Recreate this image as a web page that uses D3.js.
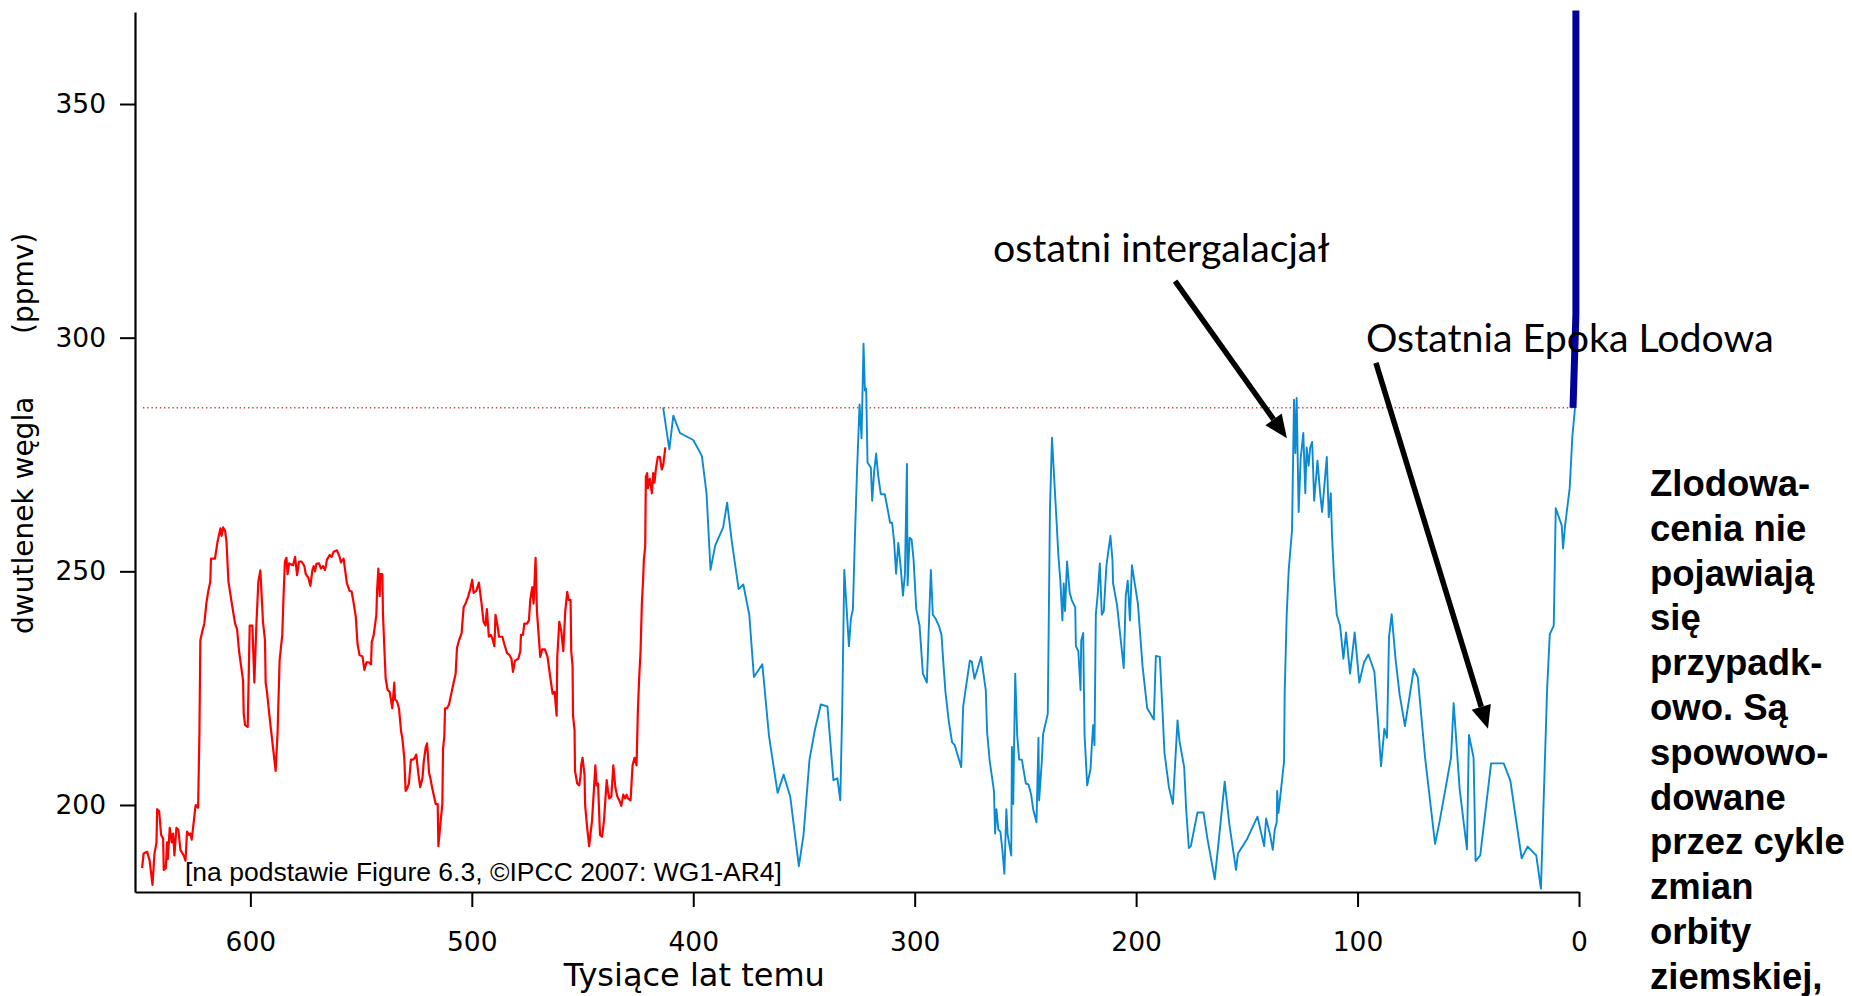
<!DOCTYPE html>
<html>
<head>
<meta charset="utf-8">
<script src="https://cdn.jsdelivr.net/npm/d3@7/dist/d3.min.js"></script>
<style>
  html, body { margin: 0; padding: 0; background: #ffffff; }
  svg { display: block; }
</style>
</head>
<body>
<svg id="chart" width="1852" height="996"></svg>
<script>
// EPICA Dome C CO2 (thousand years before present, ppmv)
const epicaAge = [648.9,648.2,646.6,645.5,644.2,643.3,642.4,642.1,641.2,640.3,639.4,639.1,638.2,637.6,637.3,636.4,635.5,634.9,634.3,633.4,632.5,631.6,630.1,629.3,628.6,627.7,627.1,626.5,625.6,624.7,623.6,623.0,622.6,621.7,620.8,619.9,619.0,618.1,617.8,616.0,614.8,613.5,613.0,612.3,611.4,610.8,609.9,608.1,606.9,606.0,605.1,603.3,603.0,602.4,601.2,600.3,599.1,598.2,597.3,596.4,595.5,594.3,593.4,593.1,592.5,591.3,589.8,588.6,587.7,586.8,585.6,585.0,584.4,583.7,583.2,582.5,580.7,579.8,578.9,578.0,576.9,575.6,575.0,573.8,572.9,572.0,571.4,570.8,570.2,569.0,568.1,567.2,566.3,565.4,564.2,563.3,562.4,560.9,559.7,559.1,557.9,556.4,555.2,554.3,553.6,552.4,551.6,550.7,549.4,548.5,547.6,546.4,545.5,545.2,544.3,543.1,542.8,542.2,541.6,541.3,540.4,540.1,539.5,538.9,538.0,537.1,535.9,535.6,535.0,534.7,533.8,532.9,531.9,531.4,530.5,529.9,529.3,528.4,527.5,526.6,525.7,525.1,524.2,523.3,522.3,521.7,520.8,520.2,519.3,518.7,517.8,516.3,515.4,515.1,514.2,513.3,513.0,512.4,512.1,511.2,510.3,509.1,508.2,507.3,506.7,505.8,504.6,503.7,502.8,501.6,500.7,499.8,499.2,498.0,496.8,495.6,494.7,493.8,493.2,492.3,491.4,490.7,489.8,489.3,488.4,487.7,486.2,485.3,484.1,483.0,482.1,481.4,480.5,479.0,478.1,477.8,476.9,476.3,475.1,474.2,473.6,472.7,472.1,471.2,470.6,469.1,468.2,467.0,465.8,464.6,463.5,462.6,461.7,461.4,460.5,459.6,458.7,457.8,456.9,456.3,455.4,455.1,454.5,454.3,453.6,453.4,452.4,451.5,450.9,450.6,450.0,449.1,448.8,447.9,447.0,445.7,444.8,444.2,443.7,443.0,442.1,441.2,440.3,439.7,439.1,438.5,437.9,437.0,436.1,435.2,434.3,433.4,432.5,431.6,430.7,430.1,429.5,428.3,427.4,426.5,425.6,425.0,424.4,423.8,423.2,422.6,422.3,421.7,421.4,420.8,420.5,419.6,418.7,418.1,417.5,416.9,416.0,415.1,414.2,413.6,412.6];
const epicaCO2 = [186.5,189.6,190.0,188.1,182.9,189.6,192.0,199.1,198.7,193.6,192.8,186.1,186.5,192.0,188.4,195.1,192.0,193.9,189.2,195.1,194.7,190.4,189.2,188.1,194.3,193.6,193.9,192.6,196.3,200.0,199.4,215.6,235.2,237.2,238.8,243.1,245.8,247.8,252.7,252.7,256.4,259.2,257.6,259.4,258.6,256.4,247.8,242.3,238.8,237.6,232.9,226.6,219.5,217.1,216.7,238.4,238.4,226.2,238.4,247.8,250.2,239.2,235.2,226.2,224.2,218.7,212.4,207.3,215.6,230.9,236.4,245.0,252.1,252.9,249.4,251.7,251.3,253.1,249.2,252.1,252.1,251.1,249.4,248.6,246.9,250.2,251.1,250.0,251.6,251.7,250.6,251.1,250.3,252.5,253.5,253.1,254.2,254.5,253.1,251.9,252.7,247.4,245.8,245.7,243.9,240.3,234.4,232.1,231.8,228.9,230.5,230.5,230.1,234.8,236.4,240.7,245.8,250.6,244.7,249.4,249.4,240.7,233.6,227.0,224.6,224.2,220.7,222.6,226.2,222.6,222.2,220.7,215.6,214.4,210.1,203.0,203.4,204.6,209.7,209.7,210.1,210.8,206.9,203.8,205.7,209.3,212.4,213.2,206.9,205.7,203.4,200.2,200.2,191.2,195.9,200.2,212.0,214.8,220.7,220.7,221.5,224.2,226.2,228.1,233.6,235.2,236.8,242.3,243.1,244.7,246.2,248.2,245.4,245.8,247.6,243.1,239.2,238.4,241.9,236.0,236.4,235.6,234.0,240.7,238.4,236.0,236.0,234.4,232.5,232.1,231.3,228.5,230.9,231.3,232.9,236.4,236.4,238.8,238.8,239.5,243.9,246.6,243.1,252.9,241.5,231.7,233.3,233.3,231.7,227.4,223.8,224.2,219.1,231.7,239.2,237.2,232.9,241.5,245.6,243.9,243.9,232.9,229.7,219.1,216.0,207.3,204.6,204.2,206.1,208.5,210.1,206.5,199.8,195.1,191.2,196.7,203.8,208.5,204.2,204.6,193.6,193.2,196.7,201.0,205.3,203.0,201.4,201.8,208.5,203.8,201.8,201.0,199.8,202.2,201.4,202.2,201.4,201.0,208.5,210.1,208.5,220.3,227.4,232.9,243.1,248.6,252.5,255.3,270.2,271.0,267.8,269.8,266.7,271.0,269.0,271.8,274.5,274.5,271.8,272.6,276.5];

// Vostok CO2 (thousand years before present, ppmv)
const vostokAge = [413.6,410.8,409.0,406.0,400.0,396.1,394.0,392.2,390.1,386.5,384.7,382.5,379.5,377.4,374.7,372.6,368.8,365.8,361.9,359.2,356.2,352.3,350.2,347.5,345.1,342.4,339.4,336.7,334.9,333.6,332.7,331.8,329.7,328.8,327.9,327.0,326.1,324.9,324.0,323.1,322.5,321.9,321.3,319.8,319.2,318.3,317.4,316.5,315.3,313.5,312.3,311.1,310.2,309.3,308.4,307.4,306.2,305.3,304.4,303.5,303.2,302.3,301.4,300.5,299.3,297.8,296.3,294.5,292.7,291.8,290.6,289.1,287.9,287.0,286.1,284.6,283.1,281.9,279.0,278.1,275.1,274.2,273.0,271.5,270.0,267.9,267.3,266.1,264.2,263.7,263.1,262.2,261.3,260.4,259.5,258.6,258.0,256.4,256.1,255.5,254.6,253.7,252.8,251.6,249.8,248.6,247.4,246.5,245.0,244.1,243.8,242.6,242.0,239.9,239.6,238.9,238.0,236.8,235.9,235.1,234.2,233.3,232.7,232.1,231.2,230.0,229.1,227.5,227.2,226.1,225.1,224.8,223.9,223.3,222.1,220.6,220.0,219.4,218.8,218.2,217.3,216.4,215.5,214.6,213.4,211.6,210.7,210.4,208.6,207.1,205.6,204.7,203.8,202.8,201.9,199.2,197.1,195.0,192.0,191.1,189.3,188.1,187.2,185.2,183.4,181.3,180.4,178.3,177.4,176.2,175.3,172.3,169.6,167.8,164.5,162.1,160.0,157.9,154.9,154.0,149.8,145.2,142.2,141.3,139.5,138.3,137.4,136.5,136.3,135.7,133.2,132.9,132.0,131.1,129.6,128.7,128.1,127.5,126.6,125.7,124.5,123.6,123.0,122.1,121.4,120.5,119.6,118.1,116.9,116.0,113.9,113.0,112.1,111.5,110.6,109.4,107.9,106.4,105.2,103.4,101.3,99.2,97.1,95.1,92.4,90.9,89.4,87.9,86.7,85.8,84.6,82.8,81.0,78.6,74.6,72.8,69.5,65.0,62.9,57.8,56.6,53.9,50.6,49.7,47.6,46.7,44.6,39.7,34.0,31.0,25.9,23.2,19.3,17.2,14.4,13.2,11.4,10.5,7.8,7.2,6.3,4.2,3.6,3.0,1.8];
const vostokCO2 = [285.1,276.1,283.3,279.6,278.1,274.7,266.7,250.3,255.5,259.4,264.7,256.1,246.2,247.2,240.7,227.4,230.1,214.8,202.6,206.5,201.8,186.9,193.6,209.7,216.0,221.5,221.1,205.3,205.7,201.0,221.1,250.3,234.0,239.9,241.9,257.2,270.6,285.7,278.5,298.7,288.7,289.1,273.3,272.2,265.1,271.4,275.2,270.6,266.5,266.5,263.5,260.4,260.4,256.4,249.5,256.1,250.2,244.8,249.4,273.0,247.0,257.2,256.8,252.5,241.9,238.4,228.1,226.2,250.3,240.7,239.9,238.4,236.4,230.1,224.2,217.9,213.4,212.8,208.1,221.1,230.9,230.7,227.0,229.3,231.7,224.6,215.6,209.3,203.0,193.9,199.1,194.7,194.3,190.4,185.3,199.1,193.6,189.2,212.4,200.2,228.1,214.8,209.7,209.7,204.6,204.4,202.2,199.1,196.3,214.4,201.0,209.3,215.2,219.5,232.9,263.5,278.6,268.2,260.4,253.3,247.8,239.5,247.4,241.5,252.1,245.4,243.9,242.3,234.0,232.9,224.6,235.2,236.8,215.2,204.2,207.7,212.8,217.1,212.8,240.7,245.4,251.7,240.7,241.5,251.3,257.6,252.5,247.4,242.7,236.0,229.3,244.7,248.0,239.5,251.3,243.1,229.7,220.7,218.3,231.9,231.7,220.3,211.2,203.8,200.2,218.1,213.6,208.1,199.1,190.8,191.2,198.4,198.4,192.8,184.1,195.1,205.0,195.9,186.1,189.6,192.8,197.5,191.2,197.1,193.6,190.4,194.7,196.3,203.0,198.3,209.3,224.2,240.7,250.2,258.8,286.7,275.3,287.1,262.7,274.1,279.6,266.7,276.5,272.6,276.5,277.7,265.1,273.7,266.7,262.7,274.5,261.6,266.7,257.2,248.6,240.7,238.4,231.3,236.9,228.1,236.9,226.2,230.5,232.2,228.5,218.7,208.3,216.3,214.4,235.9,240.8,231.0,223.6,216.9,229.1,227.3,210.1,191.7,196.6,210.1,221.8,203.4,190.5,215.0,210.1,188.0,189.2,208.9,208.9,205.2,188.6,191.1,189.2,182.1,224.8,236.5,238.4,263.5,259.8,254.9,259.8,267.8,273.4,278.9,285.0];

// Industrial-era rise
const modernAge = [2.7, 1.4, 1.4];
const modernCO2 = [285, 305, 370];

const preindustrialCO2 = 285;

const xTickValues = [600, 500, 400, 300, 200, 100, 0];
const yTickValues = [200, 250, 300, 350];

const xAxisTitle = "Tysiące lat temu";
const yAxisTitle = "dwutlenek węgla";
const yAxisUnit = "(ppmv)";
const sourceNote = "[na podstawie Figure 6.3, ©IPCC 2007: WG1-AR4]";
const sideNoteLines = ["Zlodowa-", "cenia nie", "pojawiają", "się", "przypadk-",
  "owo. Są", "spowowo-", "dowane", "przez cykle", "zmian", "orbity", "ziemskiej,"];

// Annotations: label, label anchor (age, ppmv), arrow start and tip (age, ppmv)
const annotLabels = ["ostatni intergalacjał", "Ostatnia Epoka Lodowa"];
const annotLabelAt = [[264.6, 316.2], [96.2, 296.9]];
const annotArrowFrom = [[182.4, 312.1], [91.7, 294.6]];
const annotArrowTo = [[131.9, 278.5], [41.1, 216.3]];

const svg = d3.select("#chart");
svg.append("rect").attr("width", 1852).attr("height", 996).attr("fill", "#ffffff");

const x = d3.scaleLinear().domain([652.1, 0]).range([135, 1579]);
const y = d3.scaleLinear().domain([181.38, 369.69]).range([892, 12]);

const line = d3.line().x(d => x(d[0])).y(d => y(d[1]));

// pre-industrial reference level
svg.append("line")
  .attr("x1", 143).attr("x2", x(modernAge[0]))
  .attr("y1", y(preindustrialCO2)).attr("y2", y(preindustrialCO2))
  .attr("stroke", "#d94040").attr("stroke-width", 1.4)
  .attr("stroke-dasharray", "1.4 2.8");

// series
svg.append("path")
  .datum(d3.zip(epicaAge, epicaCO2))
  .attr("d", line).attr("fill", "none")
  .attr("stroke", "#ff0000").attr("stroke-width", 2.2)
  .attr("stroke-linejoin", "round");

svg.append("path")
  .datum(d3.zip(vostokAge, vostokCO2))
  .attr("d", line).attr("fill", "none")
  .attr("stroke", "#0a8ad2").attr("stroke-width", 1.9)
  .attr("stroke-linejoin", "round");

svg.append("path")
  .datum(d3.zip(modernAge, modernCO2))
  .attr("d", line).attr("fill", "none")
  .attr("stroke", "#00009a").attr("stroke-width", 7);

// axes
const xAxis = d3.axisBottom(x).tickValues(xTickValues).tickSize(15).tickSizeOuter(0).tickPadding(25);
const yAxis = d3.axisLeft(y).tickValues(yTickValues).tickSize(15).tickSizeOuter(0).tickPadding(14);

const gx = svg.append("g").attr("transform", "translate(0,892)").call(xAxis);
const gy = svg.append("g").attr("transform", "translate(135,0)").call(yAxis);
[gx, gy].forEach(g => {
  g.select(".domain").attr("stroke", "#000").attr("stroke-width", 2.2);
  g.selectAll(".tick line").attr("stroke", "#000").attr("stroke-width", 2);
  g.selectAll(".tick text")
    .attr("fill", "#000")
    .style("font-family", "'DejaVu Sans', sans-serif")
    .style("font-size", "26.5px");
});

// axis titles
svg.append("text")
  .attr("x", x(399.5)).attr("y", 986)
  .attr("text-anchor", "middle")
  .style("font-family", "'DejaVu Sans', sans-serif")
  .style("font-size", "32px")
  .text(xAxisTitle);

svg.append("text")
  .attr("transform", "translate(33,634) rotate(-90)")
  .style("font-family", "'DejaVu Sans', sans-serif")
  .style("font-size", "28px")
  .text(yAxisTitle);

svg.append("text")
  .attr("transform", "translate(33,334) rotate(-90)")
  .style("font-family", "'DejaVu Sans', sans-serif")
  .style("font-size", "28px")
  .text(yAxisUnit);

// source note
svg.append("text")
  .attr("x", 185).attr("y", 881)
  .style("font-family", "'Liberation Sans', Arial, sans-serif")
  .style("font-size", "26.5px")
  .text(sourceNote);

// annotations with arrows
function arrow(from, to) {
  const x1 = x(from[0]), y1 = y(from[1]), x2 = x(to[0]), y2 = y(to[1]);
  const ang = Math.atan2(y2 - y1, x2 - x1);
  const headLen = 23, headHalf = 10;
  const bx = x2 - headLen * Math.cos(ang), by = y2 - headLen * Math.sin(ang);
  svg.append("line")
    .attr("x1", x1).attr("y1", y1).attr("x2", bx).attr("y2", by)
    .attr("stroke", "#000").attr("stroke-width", 5.5);
  const px = -Math.sin(ang) * headHalf, py = Math.cos(ang) * headHalf;
  svg.append("polygon")
    .attr("points", [[x2, y2], [bx + px, by + py], [bx - px, by - py]].map(p => p.join(",")).join(" "))
    .attr("fill", "#000");
}

annotLabels.forEach((label, i) => {
  svg.append("text")
    .attr("x", x(annotLabelAt[i][0])).attr("y", y(annotLabelAt[i][1]))
    .style("font-family", "Lato, 'Open Sans', sans-serif")
    .style("font-size", "39.3px")
    .text(label);
  arrow(annotArrowFrom[i], annotArrowTo[i]);
});

// side note
const side = svg.append("text")
  .style("font-family", "'Liberation Sans', Arial, sans-serif")
  .style("font-size", "36.5px")
  .style("font-weight", "bold");
sideNoteLines.forEach((t, i) => {
  side.append("tspan").attr("x", 1650).attr("y", 496 + i * 44.8).text(t);
});
</script>
</body>
</html>
